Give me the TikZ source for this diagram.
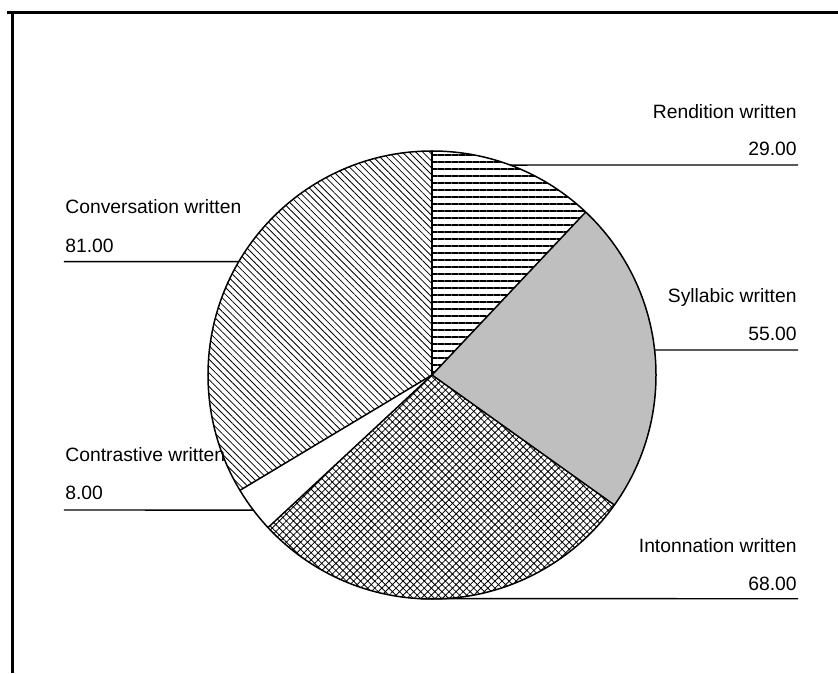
\documentclass[tikz,border=0pt]{standalone}
\usepackage{fontspec}
\setmainfont{Liberation Sans}
\usetikzlibrary{patterns.meta}
\tikzset{
  lbl/.style={inner sep=0pt,font=\fontsize{9.65}{11}\selectfont},
  edge/.style={line width=0.75pt,line join=round},
  leader/.style={line width=0.7pt}
}
\begin{document}
\begin{tikzpicture}[x=0.5pt,y=0.5pt]
    \useasboundingbox (-432,-298) rectangle (406,375);
    \def\r{224}
    % slice boundaries (29, 55, 68, 8, 81 of 241)
    \def\aA{90}
    \def\aB{46.68}
    \def\aC{-35.48}
    \def\aD{-137.06}
    \def\aE{-149.01}
    \def\aF{-270}
    % frame
    \draw[line width=1.5pt] (-425,362) -- (406,362);
    \draw[line width=1.5pt] (-419,364) -- (-419,-298);
    \begin{scope}
    \fill[pattern={Lines[angle=0,distance=3.5pt,line width=0.55pt]}]
      (0,0) -- (\aA:\r) arc [start angle=\aA,end angle=\aB,radius=\r] -- cycle;
    \fill[black!25]
      (0,0) -- (\aB:\r) arc [start angle=\aB,end angle=\aC,radius=\r] -- cycle;
    \fill[pattern={Hatch[angle=45,distance=2.5pt,line width=0.4pt]}]
      (0,0) -- (\aC:\r) arc [start angle=\aC,end angle=\aD,radius=\r] -- cycle;
    \fill[pattern={Lines[angle=-45,distance=2.4pt,line width=0.4pt]}]
      (0,0) -- (\aE:\r) arc [start angle=\aE,end angle=\aF,radius=\r] -- cycle;
    \end{scope}
    \draw[edge] (0,0) circle (\r);
    \draw[edge] (0,0) -- (\aA:\r);
    \draw[edge] (0,0) -- (\aB:\r);
    \draw[edge] (0,0) -- (\aC:\r);
    \draw[edge] (0,0) -- (\aD:\r);
    \draw[edge] (0,0) -- (\aE:\r);
    % labels
    \node[lbl,anchor=base east] (rendL) at (365,256) {Rendition written};
    \node[lbl,anchor=base east] (rendV) at (365,219) {29.00};
    \node[lbl,anchor=base east] (sylL) at (365,72) {Syllabic written};
    \node[lbl,anchor=base east] (sylV) at (365,34) {55.00};
    \node[lbl,anchor=base east] (intL) at (365,-177) {Intonnation written};
    \node[lbl,anchor=base east] (intV) at (365,-215) {68.00};
    \node[lbl,anchor=base west] (convL) at (-367,161) {Conversation written};
    \node[lbl,anchor=base west] (convV) at (-367,122) {81.00};
    \node[lbl,anchor=base west] (contL) at (-367,-87) {Contrastive written};
    \node[lbl,anchor=base west] (contV) at (-367,-125) {8.00};
    % leader lines
    \coordinate (rendA) at (69.6:\r);
    \coordinate (rendE) at (366,210);
    \coordinate (sylA) at (6.4:\r);
    \coordinate (sylE) at (366,25);
    \coordinate (intA) at (-93:\r);
    \coordinate (intE) at (366,-223.7);
    \coordinate (convA) at (149.6:\r);
    \coordinate (convE) at (-368,113.3);
    \coordinate (contA) at (217.1:\r);
    \coordinate (contE) at (-368,-135);
    \draw[leader] (rendA) -- (rendE);
    \draw[leader] (sylA) -- (sylE);
    \draw[leader] (intA) -- (intE);
    \draw[leader] (convA) -- (convE);
    \draw[leader] (contA) -- (contE);
\end{tikzpicture}
\end{document}
